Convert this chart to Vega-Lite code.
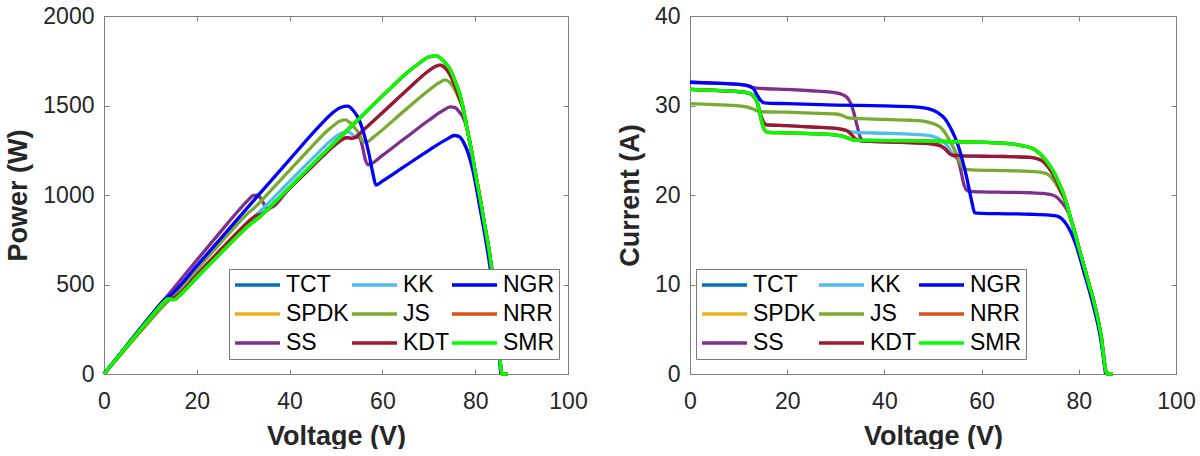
{
  "$schema": "https://vega.github.io/schema/vega-lite/v6.json",
  "background": "white",
  "padding": {"left": 4, "top": 5, "right": 0, "bottom": 0},
  "spacing": 28,
  "datasets": {
    "pv": [
      {"s":"TCT","v":0,"p":0},{"s":"TCT","v":5,"p":158.5},{"s":"TCT","v":10,"p":315.5},{"s":"TCT","v":12,"p":376.8},{"s":"TCT","v":13,"p":404.3},{"s":"TCT","v":13.8,"p":419.5},{"s":"TCT","v":14.3,"p":419},{"s":"TCT","v":14.8,"p":415.9},{"s":"TCT","v":15.3,"p":417.7},{"s":"TCT","v":16,"p":432},{"s":"TCT","v":20,"p":539},{"s":"TCT","v":25,"p":671.3},{"s":"TCT","v":30,"p":801},{"s":"TCT","v":31.5,"p":836.3},{"s":"TCT","v":32.5,"p":856.4},{"s":"TCT","v":33.5,"p":876},{"s":"TCT","v":35,"p":913.5},{"s":"TCT","v":45,"p":1172.3},{"s":"TCT","v":55,"p":1427.3},{"s":"TCT","v":62,"p":1602.7},{"s":"TCT","v":65.5,"p":1686.6},{"s":"TCT","v":68,"p":1737.4},{"s":"TCT","v":70,"p":1771},{"s":"TCT","v":71.5,"p":1776.8},{"s":"TCT","v":72.5,"p":1765.4},{"s":"TCT","v":73.6,"p":1737},{"s":"TCT","v":74.6,"p":1700.9},{"s":"TCT","v":75.6,"p":1640.5},{"s":"TCT","v":76.6,"p":1570.3},{"s":"TCT","v":77.3,"p":1499.6},{"s":"TCT","v":78.2,"p":1376.3},{"s":"TCT","v":79.2,"p":1247.4},{"s":"TCT","v":80.1,"p":1113.4},{"s":"TCT","v":81.1,"p":973.2},{"s":"TCT","v":82,"p":836.4},{"s":"TCT","v":83,"p":688.9},{"s":"TCT","v":84.5,"p":384.5},{"s":"TCT","v":85.8,"p":0},{"s":"TCT","v":87,"p":0},

      {"s":"SPDK","v":0,"p":0},{"s":"SPDK","v":5,"p":158.5},{"s":"SPDK","v":10,"p":315.5},{"s":"SPDK","v":12,"p":376.8},{"s":"SPDK","v":13,"p":404.3},{"s":"SPDK","v":13.8,"p":419.5},{"s":"SPDK","v":14.3,"p":419},{"s":"SPDK","v":14.8,"p":415.9},{"s":"SPDK","v":15.3,"p":417.7},{"s":"SPDK","v":16,"p":432},{"s":"SPDK","v":20,"p":539},{"s":"SPDK","v":25,"p":671.3},{"s":"SPDK","v":30,"p":801},{"s":"SPDK","v":31.5,"p":836.3},{"s":"SPDK","v":32.5,"p":856.4},{"s":"SPDK","v":33.5,"p":876},{"s":"SPDK","v":35,"p":913.5},{"s":"SPDK","v":45,"p":1172.3},{"s":"SPDK","v":55,"p":1427.3},{"s":"SPDK","v":62,"p":1602.7},{"s":"SPDK","v":65.5,"p":1686.6},{"s":"SPDK","v":68,"p":1737.4},{"s":"SPDK","v":70,"p":1771},{"s":"SPDK","v":71.5,"p":1776.8},{"s":"SPDK","v":72.5,"p":1765.4},{"s":"SPDK","v":73.6,"p":1737},{"s":"SPDK","v":74.6,"p":1700.9},{"s":"SPDK","v":75.6,"p":1640.5},{"s":"SPDK","v":76.6,"p":1570.3},{"s":"SPDK","v":77.3,"p":1499.6},{"s":"SPDK","v":78.2,"p":1376.3},{"s":"SPDK","v":79.2,"p":1247.4},{"s":"SPDK","v":80.1,"p":1113.4},{"s":"SPDK","v":81.1,"p":973.2},{"s":"SPDK","v":82,"p":836.4},{"s":"SPDK","v":83,"p":688.9},{"s":"SPDK","v":84.5,"p":384.5},{"s":"SPDK","v":85.8,"p":0},{"s":"SPDK","v":87,"p":0},

      {"s":"SS","v":0,"p":0},{"s":"SS","v":5,"p":162.5},{"s":"SS","v":10,"p":323.5},{"s":"SS","v":12,"p":386.4},{"s":"SS","v":13,"p":416},{"s":"SS","v":15,"p":478.5},{"s":"SS","v":20,"p":636},{"s":"SS","v":25,"p":791},{"s":"SS","v":29,"p":913.5},{"s":"SS","v":31,"p":970},{"s":"SS","v":32.3,"p":998},{"s":"SS","v":33.1,"p":999.6},{"s":"SS","v":33.8,"p":980},{"s":"SS","v":34.4,"p":953},{"s":"SS","v":35,"p":927.5},{"s":"SS","v":35.6,"p":927.4},{"s":"SS","v":40,"p":1038},{"s":"SS","v":45,"p":1163.3},{"s":"SS","v":50,"p":1285},{"s":"SS","v":51.5,"p":1313.3},{"s":"SS","v":52.5,"p":1320.4},{"s":"SS","v":53.3,"p":1316.5},{"s":"SS","v":54,"p":1320.3},{"s":"SS","v":55,"p":1325.5},{"s":"SS","v":55.7,"p":1270},{"s":"SS","v":56.3,"p":1199},{"s":"SS","v":56.9,"p":1169},{"s":"SS","v":57.5,"p":1173},{"s":"SS","v":60,"p":1221},{"s":"SS","v":65,"p":1319.5},{"s":"SS","v":70,"p":1417.5},{"s":"SS","v":73,"p":1471},{"s":"SS","v":74.6,"p":1492},{"s":"SS","v":75.6,"p":1489},{"s":"SS","v":76.6,"p":1463},{"s":"SS","v":77.3,"p":1438},{"s":"SS","v":78.2,"p":1376.3},{"s":"SS","v":79.2,"p":1247.4},{"s":"SS","v":80.1,"p":1113.4},{"s":"SS","v":81.1,"p":973.2},{"s":"SS","v":82,"p":836.4},{"s":"SS","v":83,"p":688.9},{"s":"SS","v":84.5,"p":384.5},{"s":"SS","v":85.8,"p":0},{"s":"SS","v":87,"p":0},

      {"s":"KK","v":0,"p":0},{"s":"KK","v":5,"p":158.5},{"s":"KK","v":10,"p":315.5},{"s":"KK","v":12,"p":376.8},{"s":"KK","v":13,"p":404.3},{"s":"KK","v":13.8,"p":419.5},{"s":"KK","v":14.4,"p":420.5},{"s":"KK","v":15,"p":424.5},{"s":"KK","v":15.6,"p":434.5},{"s":"KK","v":20,"p":555},{"s":"KK","v":25,"p":690},{"s":"KK","v":30,"p":823.5},{"s":"KK","v":31.5,"p":860},{"s":"KK","v":32.5,"p":882.4},{"s":"KK","v":33.3,"p":900.8},{"s":"KK","v":34,"p":918},{"s":"KK","v":40,"p":1076},{"s":"KK","v":45,"p":1206},{"s":"KK","v":49,"p":1305.9},{"s":"KK","v":50.5,"p":1335.7},{"s":"KK","v":51.5,"p":1349.3},{"s":"KK","v":52.5,"p":1354.5},{"s":"KK","v":53.3,"p":1343.2},{"s":"KK","v":54,"p":1328.4},{"s":"KK","v":54.6,"p":1333.3},{"s":"KK","v":56,"p":1365.3},{"s":"KK","v":60,"p":1459.8},{"s":"KK","v":65,"p":1579.5},{"s":"KK","v":70,"p":1694},{"s":"KK","v":71.5,"p":1719.6},{"s":"KK","v":72.5,"p":1725.5},{"s":"KK","v":73.6,"p":1707.5},{"s":"KK","v":74.6,"p":1671},{"s":"KK","v":75.6,"p":1610.3},{"s":"KK","v":76.6,"p":1539.7},{"s":"KK","v":77.3,"p":1491.9},{"s":"KK","v":78.2,"p":1376.3},{"s":"KK","v":79.2,"p":1247.4},{"s":"KK","v":80.1,"p":1113.4},{"s":"KK","v":81.1,"p":973.2},{"s":"KK","v":82,"p":836.4},{"s":"KK","v":83,"p":688.9},{"s":"KK","v":84.5,"p":384.5},{"s":"KK","v":85.8,"p":0},{"s":"KK","v":87,"p":0},

      {"s":"JS","v":0,"p":0},{"s":"JS","v":5,"p":150.5},{"s":"JS","v":10,"p":299.5},{"s":"JS","v":12,"p":357.6},{"s":"JS","v":13,"p":384.8},{"s":"JS","v":13.8,"p":405.7},{"s":"JS","v":15,"p":439.5},{"s":"JS","v":20,"p":585},{"s":"JS","v":25,"p":728.8},{"s":"JS","v":30,"p":871.5},{"s":"JS","v":31.3,"p":904.6},{"s":"JS","v":32.3,"p":925.4},{"s":"JS","v":34,"p":970.7},{"s":"JS","v":40,"p":1138},{"s":"JS","v":45,"p":1275.8},{"s":"JS","v":48,"p":1356},{"s":"JS","v":49.5,"p":1388.5},{"s":"JS","v":51,"p":1415},{"s":"JS","v":52,"p":1419.6},{"s":"JS","v":53,"p":1404.5},{"s":"JS","v":54,"p":1377},{"s":"JS","v":55,"p":1342},{"s":"JS","v":55.8,"p":1300},{"s":"JS","v":56.5,"p":1294},{"s":"JS","v":58,"p":1322},{"s":"JS","v":65,"p":1477},{"s":"JS","v":70,"p":1585.5},{"s":"JS","v":72,"p":1623.6},{"s":"JS","v":73.5,"p":1642.7},{"s":"JS","v":74.6,"p":1626},{"s":"JS","v":75.6,"p":1587.6},{"s":"JS","v":76.6,"p":1532},{"s":"JS","v":77.3,"p":1484},{"s":"JS","v":78.2,"p":1376.3},{"s":"JS","v":79.2,"p":1247.4},{"s":"JS","v":80.1,"p":1113.4},{"s":"JS","v":81.1,"p":973.2},{"s":"JS","v":82,"p":836.4},{"s":"JS","v":83,"p":688.9},{"s":"JS","v":84.5,"p":384.5},{"s":"JS","v":85.8,"p":0},{"s":"JS","v":87,"p":0},

      {"s":"KDT","v":0,"p":0},{"s":"KDT","v":5,"p":158.5},{"s":"KDT","v":10,"p":315.5},{"s":"KDT","v":12,"p":376.8},{"s":"KDT","v":13,"p":404.3},{"s":"KDT","v":13.8,"p":419.5},{"s":"KDT","v":14.4,"p":420.5},{"s":"KDT","v":15,"p":424.5},{"s":"KDT","v":15.6,"p":434.5},{"s":"KDT","v":20,"p":555},{"s":"KDT","v":25,"p":690},{"s":"KDT","v":30,"p":823.5},{"s":"KDT","v":31.5,"p":860},{"s":"KDT","v":32.5,"p":880.8},{"s":"KDT","v":33.3,"p":889.1},{"s":"KDT","v":34,"p":894.2},{"s":"KDT","v":35,"p":911.8},{"s":"KDT","v":40,"p":1038},{"s":"KDT","v":45,"p":1163.3},{"s":"KDT","v":50,"p":1285},{"s":"KDT","v":51.5,"p":1313.3},{"s":"KDT","v":52.5,"p":1320.4},{"s":"KDT","v":53.3,"p":1316.5},{"s":"KDT","v":54,"p":1320.3},{"s":"KDT","v":56,"p":1365.3},{"s":"KDT","v":60,"p":1459.8},{"s":"KDT","v":65,"p":1579.5},{"s":"KDT","v":70,"p":1694},{"s":"KDT","v":71.5,"p":1719.6},{"s":"KDT","v":72.5,"p":1725.5},{"s":"KDT","v":73.6,"p":1707.5},{"s":"KDT","v":74.6,"p":1671},{"s":"KDT","v":75.6,"p":1610.3},{"s":"KDT","v":76.6,"p":1539.7},{"s":"KDT","v":77.3,"p":1491.9},{"s":"KDT","v":78.2,"p":1376.3},{"s":"KDT","v":79.2,"p":1247.4},{"s":"KDT","v":80.1,"p":1113.4},{"s":"KDT","v":81.1,"p":973.2},{"s":"KDT","v":82,"p":836.4},{"s":"KDT","v":83,"p":688.9},{"s":"KDT","v":84.5,"p":384.5},{"s":"KDT","v":85.8,"p":0},{"s":"KDT","v":87,"p":0},

      {"s":"NGR","v":0,"p":0},{"s":"NGR","v":5,"p":162.5},{"s":"NGR","v":10,"p":323.5},{"s":"NGR","v":12,"p":386.4},{"s":"NGR","v":13,"p":414.7},{"s":"NGR","v":13.8,"p":430.6},{"s":"NGR","v":14.5,"p":443.7},{"s":"NGR","v":15.3,"p":463.6},{"s":"NGR","v":20,"p":604},{"s":"NGR","v":30,"p":901.5},{"s":"NGR","v":40,"p":1198},{"s":"NGR","v":46,"p":1373},{"s":"NGR","v":49,"p":1453},{"s":"NGR","v":51,"p":1489},{"s":"NGR","v":52.5,"p":1496},{"s":"NGR","v":53.8,"p":1469},{"s":"NGR","v":55,"p":1419},{"s":"NGR","v":56,"p":1344},{"s":"NGR","v":57,"p":1243},{"s":"NGR","v":58,"p":1114},{"s":"NGR","v":58.6,"p":1055},{"s":"NGR","v":60,"p":1077},{"s":"NGR","v":65,"p":1163.5},{"s":"NGR","v":70,"p":1249.5},{"s":"NGR","v":74,"p":1313.5},{"s":"NGR","v":75.5,"p":1332.5},{"s":"NGR","v":76.5,"p":1327},{"s":"NGR","v":77.5,"p":1294},{"s":"NGR","v":78.5,"p":1232},{"s":"NGR","v":79.5,"p":1137},{"s":"NGR","v":81,"p":931.5},{"s":"NGR","v":83,"p":631},{"s":"NGR","v":84.5,"p":329.6},{"s":"NGR","v":85.5,"p":0},

      {"s":"NRR","v":0,"p":0},{"s":"NRR","v":5,"p":158.5},{"s":"NRR","v":10,"p":315.5},{"s":"NRR","v":12,"p":376.8},{"s":"NRR","v":13,"p":404.3},{"s":"NRR","v":13.8,"p":419.5},{"s":"NRR","v":14.3,"p":419},{"s":"NRR","v":14.8,"p":415.9},{"s":"NRR","v":15.3,"p":417.7},{"s":"NRR","v":16,"p":432},{"s":"NRR","v":20,"p":539},{"s":"NRR","v":25,"p":671.3},{"s":"NRR","v":30,"p":801},{"s":"NRR","v":31.5,"p":836.3},{"s":"NRR","v":32.5,"p":856.4},{"s":"NRR","v":33.5,"p":876},{"s":"NRR","v":35,"p":913.5},{"s":"NRR","v":45,"p":1172.3},{"s":"NRR","v":55,"p":1427.3},{"s":"NRR","v":62,"p":1602.7},{"s":"NRR","v":65.5,"p":1686.6},{"s":"NRR","v":68,"p":1737.4},{"s":"NRR","v":70,"p":1771},{"s":"NRR","v":71.5,"p":1776.8},{"s":"NRR","v":72.5,"p":1765.4},{"s":"NRR","v":73.6,"p":1737},{"s":"NRR","v":74.6,"p":1700.9},{"s":"NRR","v":75.6,"p":1640.5},{"s":"NRR","v":76.6,"p":1570.3},{"s":"NRR","v":77.3,"p":1499.6},{"s":"NRR","v":78.2,"p":1376.3},{"s":"NRR","v":79.2,"p":1247.4},{"s":"NRR","v":80.1,"p":1113.4},{"s":"NRR","v":81.1,"p":973.2},{"s":"NRR","v":82,"p":836.4},{"s":"NRR","v":83,"p":688.9},{"s":"NRR","v":84.5,"p":384.5},{"s":"NRR","v":85.8,"p":0},{"s":"NRR","v":87,"p":0},

      {"s":"SMR","v":0,"p":0},{"s":"SMR","v":5,"p":158.5},{"s":"SMR","v":10,"p":315.5},{"s":"SMR","v":12,"p":376.8},{"s":"SMR","v":13,"p":404.3},{"s":"SMR","v":13.8,"p":419.5},{"s":"SMR","v":14.3,"p":419},{"s":"SMR","v":14.8,"p":415.9},{"s":"SMR","v":15.3,"p":417.7},{"s":"SMR","v":16,"p":432},{"s":"SMR","v":20,"p":539},{"s":"SMR","v":25,"p":671.3},{"s":"SMR","v":30,"p":801},{"s":"SMR","v":31.5,"p":836.3},{"s":"SMR","v":32.5,"p":856.4},{"s":"SMR","v":33.5,"p":876},{"s":"SMR","v":35,"p":913.5},{"s":"SMR","v":45,"p":1172.3},{"s":"SMR","v":55,"p":1427.3},{"s":"SMR","v":62,"p":1602.7},{"s":"SMR","v":65.5,"p":1686.6},{"s":"SMR","v":68,"p":1737.4},{"s":"SMR","v":70,"p":1771},{"s":"SMR","v":71.5,"p":1776.8},{"s":"SMR","v":72.5,"p":1765.4},{"s":"SMR","v":73.6,"p":1737},{"s":"SMR","v":74.6,"p":1700.9},{"s":"SMR","v":75.6,"p":1640.5},{"s":"SMR","v":76.6,"p":1570.3},{"s":"SMR","v":77.3,"p":1499.6},{"s":"SMR","v":78.2,"p":1376.3},{"s":"SMR","v":79.2,"p":1247.4},{"s":"SMR","v":80.1,"p":1113.4},{"s":"SMR","v":81.1,"p":973.2},{"s":"SMR","v":82,"p":836.4},{"s":"SMR","v":83,"p":688.9},{"s":"SMR","v":84.5,"p":384.5},{"s":"SMR","v":85.8,"p":0},{"s":"SMR","v":87,"p":0}
    ],
    "iv": [
      {"s":"TCT","v":0,"i":31.8},{"s":"TCT","v":5,"i":31.7},{"s":"TCT","v":10,"i":31.55},{"s":"TCT","v":12,"i":31.4},{"s":"TCT","v":13,"i":31.1},{"s":"TCT","v":13.8,"i":30.4},{"s":"TCT","v":14.3,"i":29.3},{"s":"TCT","v":14.8,"i":28.1},{"s":"TCT","v":15.3,"i":27.3},{"s":"TCT","v":16,"i":27.0},{"s":"TCT","v":20,"i":26.95},{"s":"TCT","v":25,"i":26.85},{"s":"TCT","v":30,"i":26.7},{"s":"TCT","v":31.5,"i":26.55},{"s":"TCT","v":32.5,"i":26.35},{"s":"TCT","v":33.5,"i":26.15},{"s":"TCT","v":35,"i":26.1},{"s":"TCT","v":45,"i":26.05},{"s":"TCT","v":55,"i":25.95},{"s":"TCT","v":62,"i":25.85},{"s":"TCT","v":65.5,"i":25.75},{"s":"TCT","v":68,"i":25.55},{"s":"TCT","v":70,"i":25.3},{"s":"TCT","v":71.5,"i":24.85},{"s":"TCT","v":72.5,"i":24.35},{"s":"TCT","v":73.6,"i":23.6},{"s":"TCT","v":74.6,"i":22.8},{"s":"TCT","v":75.6,"i":21.7},{"s":"TCT","v":76.6,"i":20.5},{"s":"TCT","v":77.3,"i":19.4},{"s":"TCT","v":78.2,"i":17.6},{"s":"TCT","v":79.2,"i":15.75},{"s":"TCT","v":80.1,"i":13.9},{"s":"TCT","v":81.1,"i":12.0},{"s":"TCT","v":82,"i":10.2},{"s":"TCT","v":83,"i":8.3},{"s":"TCT","v":84.5,"i":4.55},{"s":"TCT","v":85.8,"i":0},{"s":"TCT","v":87,"i":0},

      {"s":"SPDK","v":0,"i":31.8},{"s":"SPDK","v":5,"i":31.7},{"s":"SPDK","v":10,"i":31.55},{"s":"SPDK","v":12,"i":31.4},{"s":"SPDK","v":13,"i":31.1},{"s":"SPDK","v":13.8,"i":30.4},{"s":"SPDK","v":14.3,"i":29.3},{"s":"SPDK","v":14.8,"i":28.1},{"s":"SPDK","v":15.3,"i":27.3},{"s":"SPDK","v":16,"i":27.0},{"s":"SPDK","v":20,"i":26.95},{"s":"SPDK","v":25,"i":26.85},{"s":"SPDK","v":30,"i":26.7},{"s":"SPDK","v":31.5,"i":26.55},{"s":"SPDK","v":32.5,"i":26.35},{"s":"SPDK","v":33.5,"i":26.15},{"s":"SPDK","v":35,"i":26.1},{"s":"SPDK","v":45,"i":26.05},{"s":"SPDK","v":55,"i":25.95},{"s":"SPDK","v":62,"i":25.85},{"s":"SPDK","v":65.5,"i":25.75},{"s":"SPDK","v":68,"i":25.55},{"s":"SPDK","v":70,"i":25.3},{"s":"SPDK","v":71.5,"i":24.85},{"s":"SPDK","v":72.5,"i":24.35},{"s":"SPDK","v":73.6,"i":23.6},{"s":"SPDK","v":74.6,"i":22.8},{"s":"SPDK","v":75.6,"i":21.7},{"s":"SPDK","v":76.6,"i":20.5},{"s":"SPDK","v":77.3,"i":19.4},{"s":"SPDK","v":78.2,"i":17.6},{"s":"SPDK","v":79.2,"i":15.75},{"s":"SPDK","v":80.1,"i":13.9},{"s":"SPDK","v":81.1,"i":12.0},{"s":"SPDK","v":82,"i":10.2},{"s":"SPDK","v":83,"i":8.3},{"s":"SPDK","v":84.5,"i":4.55},{"s":"SPDK","v":85.8,"i":0},{"s":"SPDK","v":87,"i":0},

      {"s":"SS","v":0,"i":32.6},{"s":"SS","v":5,"i":32.5},{"s":"SS","v":10,"i":32.35},{"s":"SS","v":12,"i":32.2},{"s":"SS","v":13,"i":32.0},{"s":"SS","v":15,"i":31.9},{"s":"SS","v":20,"i":31.8},{"s":"SS","v":25,"i":31.65},{"s":"SS","v":29,"i":31.5},{"s":"SS","v":31,"i":31.3},{"s":"SS","v":32.3,"i":30.9},{"s":"SS","v":33.1,"i":30.2},{"s":"SS","v":33.8,"i":29.0},{"s":"SS","v":34.4,"i":27.7},{"s":"SS","v":35,"i":26.5},{"s":"SS","v":35.6,"i":26.05},{"s":"SS","v":40,"i":25.95},{"s":"SS","v":45,"i":25.85},{"s":"SS","v":50,"i":25.7},{"s":"SS","v":51.5,"i":25.5},{"s":"SS","v":52.5,"i":25.15},{"s":"SS","v":53.3,"i":24.7},{"s":"SS","v":54,"i":24.45},{"s":"SS","v":55,"i":24.1},{"s":"SS","v":55.7,"i":22.8},{"s":"SS","v":56.3,"i":21.3},{"s":"SS","v":56.9,"i":20.55},{"s":"SS","v":57.5,"i":20.4},{"s":"SS","v":60,"i":20.35},{"s":"SS","v":65,"i":20.3},{"s":"SS","v":70,"i":20.25},{"s":"SS","v":73,"i":20.15},{"s":"SS","v":74.6,"i":20.0},{"s":"SS","v":75.6,"i":19.7},{"s":"SS","v":76.6,"i":19.1},{"s":"SS","v":77.3,"i":18.6},{"s":"SS","v":78.2,"i":17.6},{"s":"SS","v":79.2,"i":15.75},{"s":"SS","v":80.1,"i":13.9},{"s":"SS","v":81.1,"i":12.0},{"s":"SS","v":82,"i":10.2},{"s":"SS","v":83,"i":8.3},{"s":"SS","v":84.5,"i":4.55},{"s":"SS","v":85.8,"i":0},{"s":"SS","v":87,"i":0},

      {"s":"KK","v":0,"i":31.8},{"s":"KK","v":5,"i":31.7},{"s":"KK","v":10,"i":31.55},{"s":"KK","v":12,"i":31.4},{"s":"KK","v":13,"i":31.1},{"s":"KK","v":13.8,"i":30.4},{"s":"KK","v":14.4,"i":29.2},{"s":"KK","v":15,"i":28.3},{"s":"KK","v":15.6,"i":27.85},{"s":"KK","v":20,"i":27.75},{"s":"KK","v":25,"i":27.6},{"s":"KK","v":30,"i":27.45},{"s":"KK","v":31.5,"i":27.3},{"s":"KK","v":32.5,"i":27.15},{"s":"KK","v":33.3,"i":27.05},{"s":"KK","v":34,"i":27.0},{"s":"KK","v":40,"i":26.9},{"s":"KK","v":45,"i":26.8},{"s":"KK","v":49,"i":26.65},{"s":"KK","v":50.5,"i":26.45},{"s":"KK","v":51.5,"i":26.2},{"s":"KK","v":52.5,"i":25.8},{"s":"KK","v":53.3,"i":25.2},{"s":"KK","v":54,"i":24.6},{"s":"KK","v":54.6,"i":24.42},{"s":"KK","v":56,"i":24.38},{"s":"KK","v":60,"i":24.33},{"s":"KK","v":65,"i":24.3},{"s":"KK","v":70,"i":24.2},{"s":"KK","v":71.5,"i":24.05},{"s":"KK","v":72.5,"i":23.8},{"s":"KK","v":73.6,"i":23.2},{"s":"KK","v":74.6,"i":22.4},{"s":"KK","v":75.6,"i":21.3},{"s":"KK","v":76.6,"i":20.1},{"s":"KK","v":77.3,"i":19.3},{"s":"KK","v":78.2,"i":17.6},{"s":"KK","v":79.2,"i":15.75},{"s":"KK","v":80.1,"i":13.9},{"s":"KK","v":81.1,"i":12.0},{"s":"KK","v":82,"i":10.2},{"s":"KK","v":83,"i":8.3},{"s":"KK","v":84.5,"i":4.55},{"s":"KK","v":85.8,"i":0},{"s":"KK","v":87,"i":0},

      {"s":"JS","v":0,"i":30.2},{"s":"JS","v":5,"i":30.1},{"s":"JS","v":10,"i":29.95},{"s":"JS","v":12,"i":29.8},{"s":"JS","v":13,"i":29.6},{"s":"JS","v":13.8,"i":29.4},{"s":"JS","v":15,"i":29.3},{"s":"JS","v":20,"i":29.25},{"s":"JS","v":25,"i":29.15},{"s":"JS","v":30,"i":29.05},{"s":"JS","v":31.3,"i":28.9},{"s":"JS","v":32.3,"i":28.65},{"s":"JS","v":34,"i":28.55},{"s":"JS","v":40,"i":28.45},{"s":"JS","v":45,"i":28.35},{"s":"JS","v":48,"i":28.25},{"s":"JS","v":49.5,"i":28.05},{"s":"JS","v":51,"i":27.75},{"s":"JS","v":52,"i":27.3},{"s":"JS","v":53,"i":26.5},{"s":"JS","v":54,"i":25.5},{"s":"JS","v":55,"i":24.4},{"s":"JS","v":55.8,"i":23.3},{"s":"JS","v":56.5,"i":22.9},{"s":"JS","v":58,"i":22.8},{"s":"JS","v":65,"i":22.72},{"s":"JS","v":70,"i":22.65},{"s":"JS","v":72,"i":22.55},{"s":"JS","v":73.5,"i":22.35},{"s":"JS","v":74.6,"i":21.8},{"s":"JS","v":75.6,"i":21.0},{"s":"JS","v":76.6,"i":20.0},{"s":"JS","v":77.3,"i":19.2},{"s":"JS","v":78.2,"i":17.6},{"s":"JS","v":79.2,"i":15.75},{"s":"JS","v":80.1,"i":13.9},{"s":"JS","v":81.1,"i":12.0},{"s":"JS","v":82,"i":10.2},{"s":"JS","v":83,"i":8.3},{"s":"JS","v":84.5,"i":4.55},{"s":"JS","v":85.8,"i":0},{"s":"JS","v":87,"i":0},

      {"s":"KDT","v":0,"i":31.8},{"s":"KDT","v":5,"i":31.7},{"s":"KDT","v":10,"i":31.55},{"s":"KDT","v":12,"i":31.4},{"s":"KDT","v":13,"i":31.1},{"s":"KDT","v":13.8,"i":30.4},{"s":"KDT","v":14.4,"i":29.2},{"s":"KDT","v":15,"i":28.3},{"s":"KDT","v":15.6,"i":27.85},{"s":"KDT","v":20,"i":27.75},{"s":"KDT","v":25,"i":27.6},{"s":"KDT","v":30,"i":27.45},{"s":"KDT","v":31.5,"i":27.3},{"s":"KDT","v":32.5,"i":27.1},{"s":"KDT","v":33.3,"i":26.7},{"s":"KDT","v":34,"i":26.3},{"s":"KDT","v":35,"i":26.05},{"s":"KDT","v":40,"i":25.95},{"s":"KDT","v":45,"i":25.85},{"s":"KDT","v":50,"i":25.7},{"s":"KDT","v":51.5,"i":25.5},{"s":"KDT","v":52.5,"i":25.15},{"s":"KDT","v":53.3,"i":24.7},{"s":"KDT","v":54,"i":24.45},{"s":"KDT","v":56,"i":24.38},{"s":"KDT","v":60,"i":24.33},{"s":"KDT","v":65,"i":24.3},{"s":"KDT","v":70,"i":24.2},{"s":"KDT","v":71.5,"i":24.05},{"s":"KDT","v":72.5,"i":23.8},{"s":"KDT","v":73.6,"i":23.2},{"s":"KDT","v":74.6,"i":22.4},{"s":"KDT","v":75.6,"i":21.3},{"s":"KDT","v":76.6,"i":20.1},{"s":"KDT","v":77.3,"i":19.3},{"s":"KDT","v":78.2,"i":17.6},{"s":"KDT","v":79.2,"i":15.75},{"s":"KDT","v":80.1,"i":13.9},{"s":"KDT","v":81.1,"i":12.0},{"s":"KDT","v":82,"i":10.2},{"s":"KDT","v":83,"i":8.3},{"s":"KDT","v":84.5,"i":4.55},{"s":"KDT","v":85.8,"i":0},{"s":"KDT","v":87,"i":0},

      {"s":"NGR","v":0,"i":32.6},{"s":"NGR","v":5,"i":32.5},{"s":"NGR","v":10,"i":32.35},{"s":"NGR","v":12,"i":32.2},{"s":"NGR","v":13,"i":31.9},{"s":"NGR","v":13.8,"i":31.2},{"s":"NGR","v":14.5,"i":30.6},{"s":"NGR","v":15.3,"i":30.3},{"s":"NGR","v":20,"i":30.2},{"s":"NGR","v":30,"i":30.05},{"s":"NGR","v":40,"i":29.95},{"s":"NGR","v":46,"i":29.85},{"s":"NGR","v":49,"i":29.65},{"s":"NGR","v":51,"i":29.2},{"s":"NGR","v":52.5,"i":28.5},{"s":"NGR","v":53.8,"i":27.3},{"s":"NGR","v":55,"i":25.8},{"s":"NGR","v":56,"i":24.0},{"s":"NGR","v":57,"i":21.8},{"s":"NGR","v":58,"i":19.2},{"s":"NGR","v":58.6,"i":18.0},{"s":"NGR","v":60,"i":17.95},{"s":"NGR","v":65,"i":17.9},{"s":"NGR","v":70,"i":17.85},{"s":"NGR","v":74,"i":17.75},{"s":"NGR","v":75.5,"i":17.65},{"s":"NGR","v":76.5,"i":17.35},{"s":"NGR","v":77.5,"i":16.7},{"s":"NGR","v":78.5,"i":15.7},{"s":"NGR","v":79.5,"i":14.3},{"s":"NGR","v":81,"i":11.5},{"s":"NGR","v":83,"i":7.6},{"s":"NGR","v":84.5,"i":3.9},{"s":"NGR","v":85.5,"i":0},

      {"s":"NRR","v":0,"i":31.8},{"s":"NRR","v":5,"i":31.7},{"s":"NRR","v":10,"i":31.55},{"s":"NRR","v":12,"i":31.4},{"s":"NRR","v":13,"i":31.1},{"s":"NRR","v":13.8,"i":30.4},{"s":"NRR","v":14.3,"i":29.3},{"s":"NRR","v":14.8,"i":28.1},{"s":"NRR","v":15.3,"i":27.3},{"s":"NRR","v":16,"i":27.0},{"s":"NRR","v":20,"i":26.95},{"s":"NRR","v":25,"i":26.85},{"s":"NRR","v":30,"i":26.7},{"s":"NRR","v":31.5,"i":26.55},{"s":"NRR","v":32.5,"i":26.35},{"s":"NRR","v":33.5,"i":26.15},{"s":"NRR","v":35,"i":26.1},{"s":"NRR","v":45,"i":26.05},{"s":"NRR","v":55,"i":25.95},{"s":"NRR","v":62,"i":25.85},{"s":"NRR","v":65.5,"i":25.75},{"s":"NRR","v":68,"i":25.55},{"s":"NRR","v":70,"i":25.3},{"s":"NRR","v":71.5,"i":24.85},{"s":"NRR","v":72.5,"i":24.35},{"s":"NRR","v":73.6,"i":23.6},{"s":"NRR","v":74.6,"i":22.8},{"s":"NRR","v":75.6,"i":21.7},{"s":"NRR","v":76.6,"i":20.5},{"s":"NRR","v":77.3,"i":19.4},{"s":"NRR","v":78.2,"i":17.6},{"s":"NRR","v":79.2,"i":15.75},{"s":"NRR","v":80.1,"i":13.9},{"s":"NRR","v":81.1,"i":12.0},{"s":"NRR","v":82,"i":10.2},{"s":"NRR","v":83,"i":8.3},{"s":"NRR","v":84.5,"i":4.55},{"s":"NRR","v":85.8,"i":0},{"s":"NRR","v":87,"i":0},

      {"s":"SMR","v":0,"i":31.8},{"s":"SMR","v":5,"i":31.7},{"s":"SMR","v":10,"i":31.55},{"s":"SMR","v":12,"i":31.4},{"s":"SMR","v":13,"i":31.1},{"s":"SMR","v":13.8,"i":30.4},{"s":"SMR","v":14.3,"i":29.3},{"s":"SMR","v":14.8,"i":28.1},{"s":"SMR","v":15.3,"i":27.3},{"s":"SMR","v":16,"i":27.0},{"s":"SMR","v":20,"i":26.95},{"s":"SMR","v":25,"i":26.85},{"s":"SMR","v":30,"i":26.7},{"s":"SMR","v":31.5,"i":26.55},{"s":"SMR","v":32.5,"i":26.35},{"s":"SMR","v":33.5,"i":26.15},{"s":"SMR","v":35,"i":26.1},{"s":"SMR","v":45,"i":26.05},{"s":"SMR","v":55,"i":25.95},{"s":"SMR","v":62,"i":25.85},{"s":"SMR","v":65.5,"i":25.75},{"s":"SMR","v":68,"i":25.55},{"s":"SMR","v":70,"i":25.3},{"s":"SMR","v":71.5,"i":24.85},{"s":"SMR","v":72.5,"i":24.35},{"s":"SMR","v":73.6,"i":23.6},{"s":"SMR","v":74.6,"i":22.8},{"s":"SMR","v":75.6,"i":21.7},{"s":"SMR","v":76.6,"i":20.5},{"s":"SMR","v":77.3,"i":19.4},{"s":"SMR","v":78.2,"i":17.6},{"s":"SMR","v":79.2,"i":15.75},{"s":"SMR","v":80.1,"i":13.9},{"s":"SMR","v":81.1,"i":12.0},{"s":"SMR","v":82,"i":10.2},{"s":"SMR","v":83,"i":8.3},{"s":"SMR","v":84.5,"i":4.55},{"s":"SMR","v":85.8,"i":0},{"s":"SMR","v":87,"i":0}
    ]
  },
  "hconcat": [
    {
      "width": 464,
      "height": 358,
      "layer": [
        {
          "data": {"name": "pv"},
          "mark": {"type": "line", "interpolate": "monotone", "strokeJoin": "round"},
          "encoding": {
            "x": {"field": "v", "type": "quantitative", "scale": {"domain": [0, 100], "nice": false},
                  "axis": {"title": "Voltage (V)", "values": [0, 20, 40, 60, 80, 100]}},
            "y": {"field": "p", "type": "quantitative", "scale": {"domain": [0, 2000], "nice": false},
                  "axis": {"title": "Power (W)", "values": [0, 500, 1000, 1500, 2000], "format": "d"}},
            "color": {"field": "s", "type": "nominal",
                      "scale": {"domain": ["TCT","SPDK","SS","KK","JS","KDT","NGR","NRR","SMR"],
                                "range": ["#0072BD","#EDB120","#7E2F8E","#4DBEEE","#77AC30","#A2142F","#0000FF","#D95319","#00FF00"]},
                      "legend": {"title": null, "orient": "none", "legendX": 125, "legendY": 253, "columns": 3}},
            "strokeWidth": {"field": "s", "type": "nominal",
                      "scale": {"domain": ["TCT","SPDK","SS","KK","JS","KDT","NGR","NRR","SMR"],
                                "range": [3.3, 3.3, 3.3, 3.3, 3.3, 3.3, 4.3, 3.3, 4.3]},
                      "legend": {"title": null, "orient": "none", "legendX": 125, "legendY": 253, "columns": 3}}
          }
        },
        {
          "data": {"name": "pv"},
          "mark": {"type": "point", "opacity": 0},
          "encoding": {
            "x": {"field": "v", "type": "quantitative", "scale": {"domain": [0, 100], "nice": false},
                  "axis": {"orient": "top", "labels": false, "title": null, "minExtent": 0, "values": [0, 20, 40, 60, 80, 100]}},
            "y": {"field": "p", "type": "quantitative", "scale": {"domain": [0, 2000], "nice": false},
                  "axis": {"orient": "right", "labels": false, "title": null, "minExtent": 0, "values": [0, 500, 1000, 1500, 2000]}}
          }
        }
      ],
      "resolve": {"axis": {"x": "independent", "y": "independent"}}
    },
    {
      "width": 486,
      "height": 358,
      "layer": [
        {
          "data": {"name": "iv"},
          "mark": {"type": "line", "interpolate": "monotone", "strokeJoin": "round"},
          "encoding": {
            "x": {"field": "v", "type": "quantitative", "scale": {"domain": [0, 100], "nice": false},
                  "axis": {"title": "Voltage (V)", "values": [0, 20, 40, 60, 80, 100]}},
            "y": {"field": "i", "type": "quantitative", "scale": {"domain": [0, 40], "nice": false},
                  "axis": {"title": "Current (A)", "values": [0, 10, 20, 30, 40], "format": "d"}},
            "color": {"field": "s", "type": "nominal",
                      "scale": {"domain": ["TCT","SPDK","SS","KK","JS","KDT","NGR","NRR","SMR"],
                                "range": ["#0072BD","#EDB120","#7E2F8E","#4DBEEE","#77AC30","#A2142F","#0000FF","#D95319","#00FF00"]},
                      "legend": {"title": null, "orient": "none", "legendX": 6, "legendY": 253, "columns": 3}},
            "strokeWidth": {"field": "s", "type": "nominal",
                      "scale": {"domain": ["TCT","SPDK","SS","KK","JS","KDT","NGR","NRR","SMR"],
                                "range": [3.3, 3.3, 3.3, 3.3, 3.3, 3.3, 4.3, 3.3, 4.3]},
                      "legend": {"title": null, "orient": "none", "legendX": 6, "legendY": 253, "columns": 3}}
          }
        },
        {
          "data": {"name": "iv"},
          "mark": {"type": "point", "opacity": 0},
          "encoding": {
            "x": {"field": "v", "type": "quantitative", "scale": {"domain": [0, 100], "nice": false},
                  "axis": {"orient": "top", "labels": false, "title": null, "minExtent": 0, "values": [0, 20, 40, 60, 80, 100]}},
            "y": {"field": "i", "type": "quantitative", "scale": {"domain": [0, 40], "nice": false},
                  "axis": {"orient": "right", "labels": false, "title": null, "minExtent": 0, "values": [0, 10, 20, 30, 40]}}
          }
        }
      ],
      "resolve": {"axis": {"x": "independent", "y": "independent"}}
    }
  ],
  "resolve": {
    "scale": {"x": "independent", "y": "independent"},
    "legend": {"color": "independent", "strokeWidth": "independent"}
  },
  "config": {
    "view": {"stroke": null},
    "axis": {
      "grid": false,
      "domainColor": "#808080",
      "domainWidth": 1,
      "tickColor": "#808080",
      "tickWidth": 1,
      "tickSize": -5,
      "labelFont": "Liberation Sans",
      "labelFontSize": 23,
      "labelColor": "#262626",
      "labelFlush": false,
      "labelOverlap": false,
      "titleFont": "Liberation Sans",
      "titleFontSize": 27,
      "titleFontWeight": "bold",
      "titleColor": "#262626"
    },
    "axisX": {"labelPadding": 21, "titlePadding": 10},
    "axisY": {"labelPadding": 15, "titlePadding": 10},
    "legend": {
      "symbolType": "stroke",
      "symbolSize": 2025,
      "symbolOffset": 0,
      "clipHeight": 24,
      "labelFont": "Liberation Sans",
      "labelFontSize": 23,
      "labelColor": "#000000",
      "labelOffset": 4,
      "rowPadding": 5,
      "columnPadding": 1,
      "padding": 4,
      "strokeColor": "#7a7a7a",
      "fillColor": "#ffffff",
      "cornerRadius": 0
    }
  }
}
